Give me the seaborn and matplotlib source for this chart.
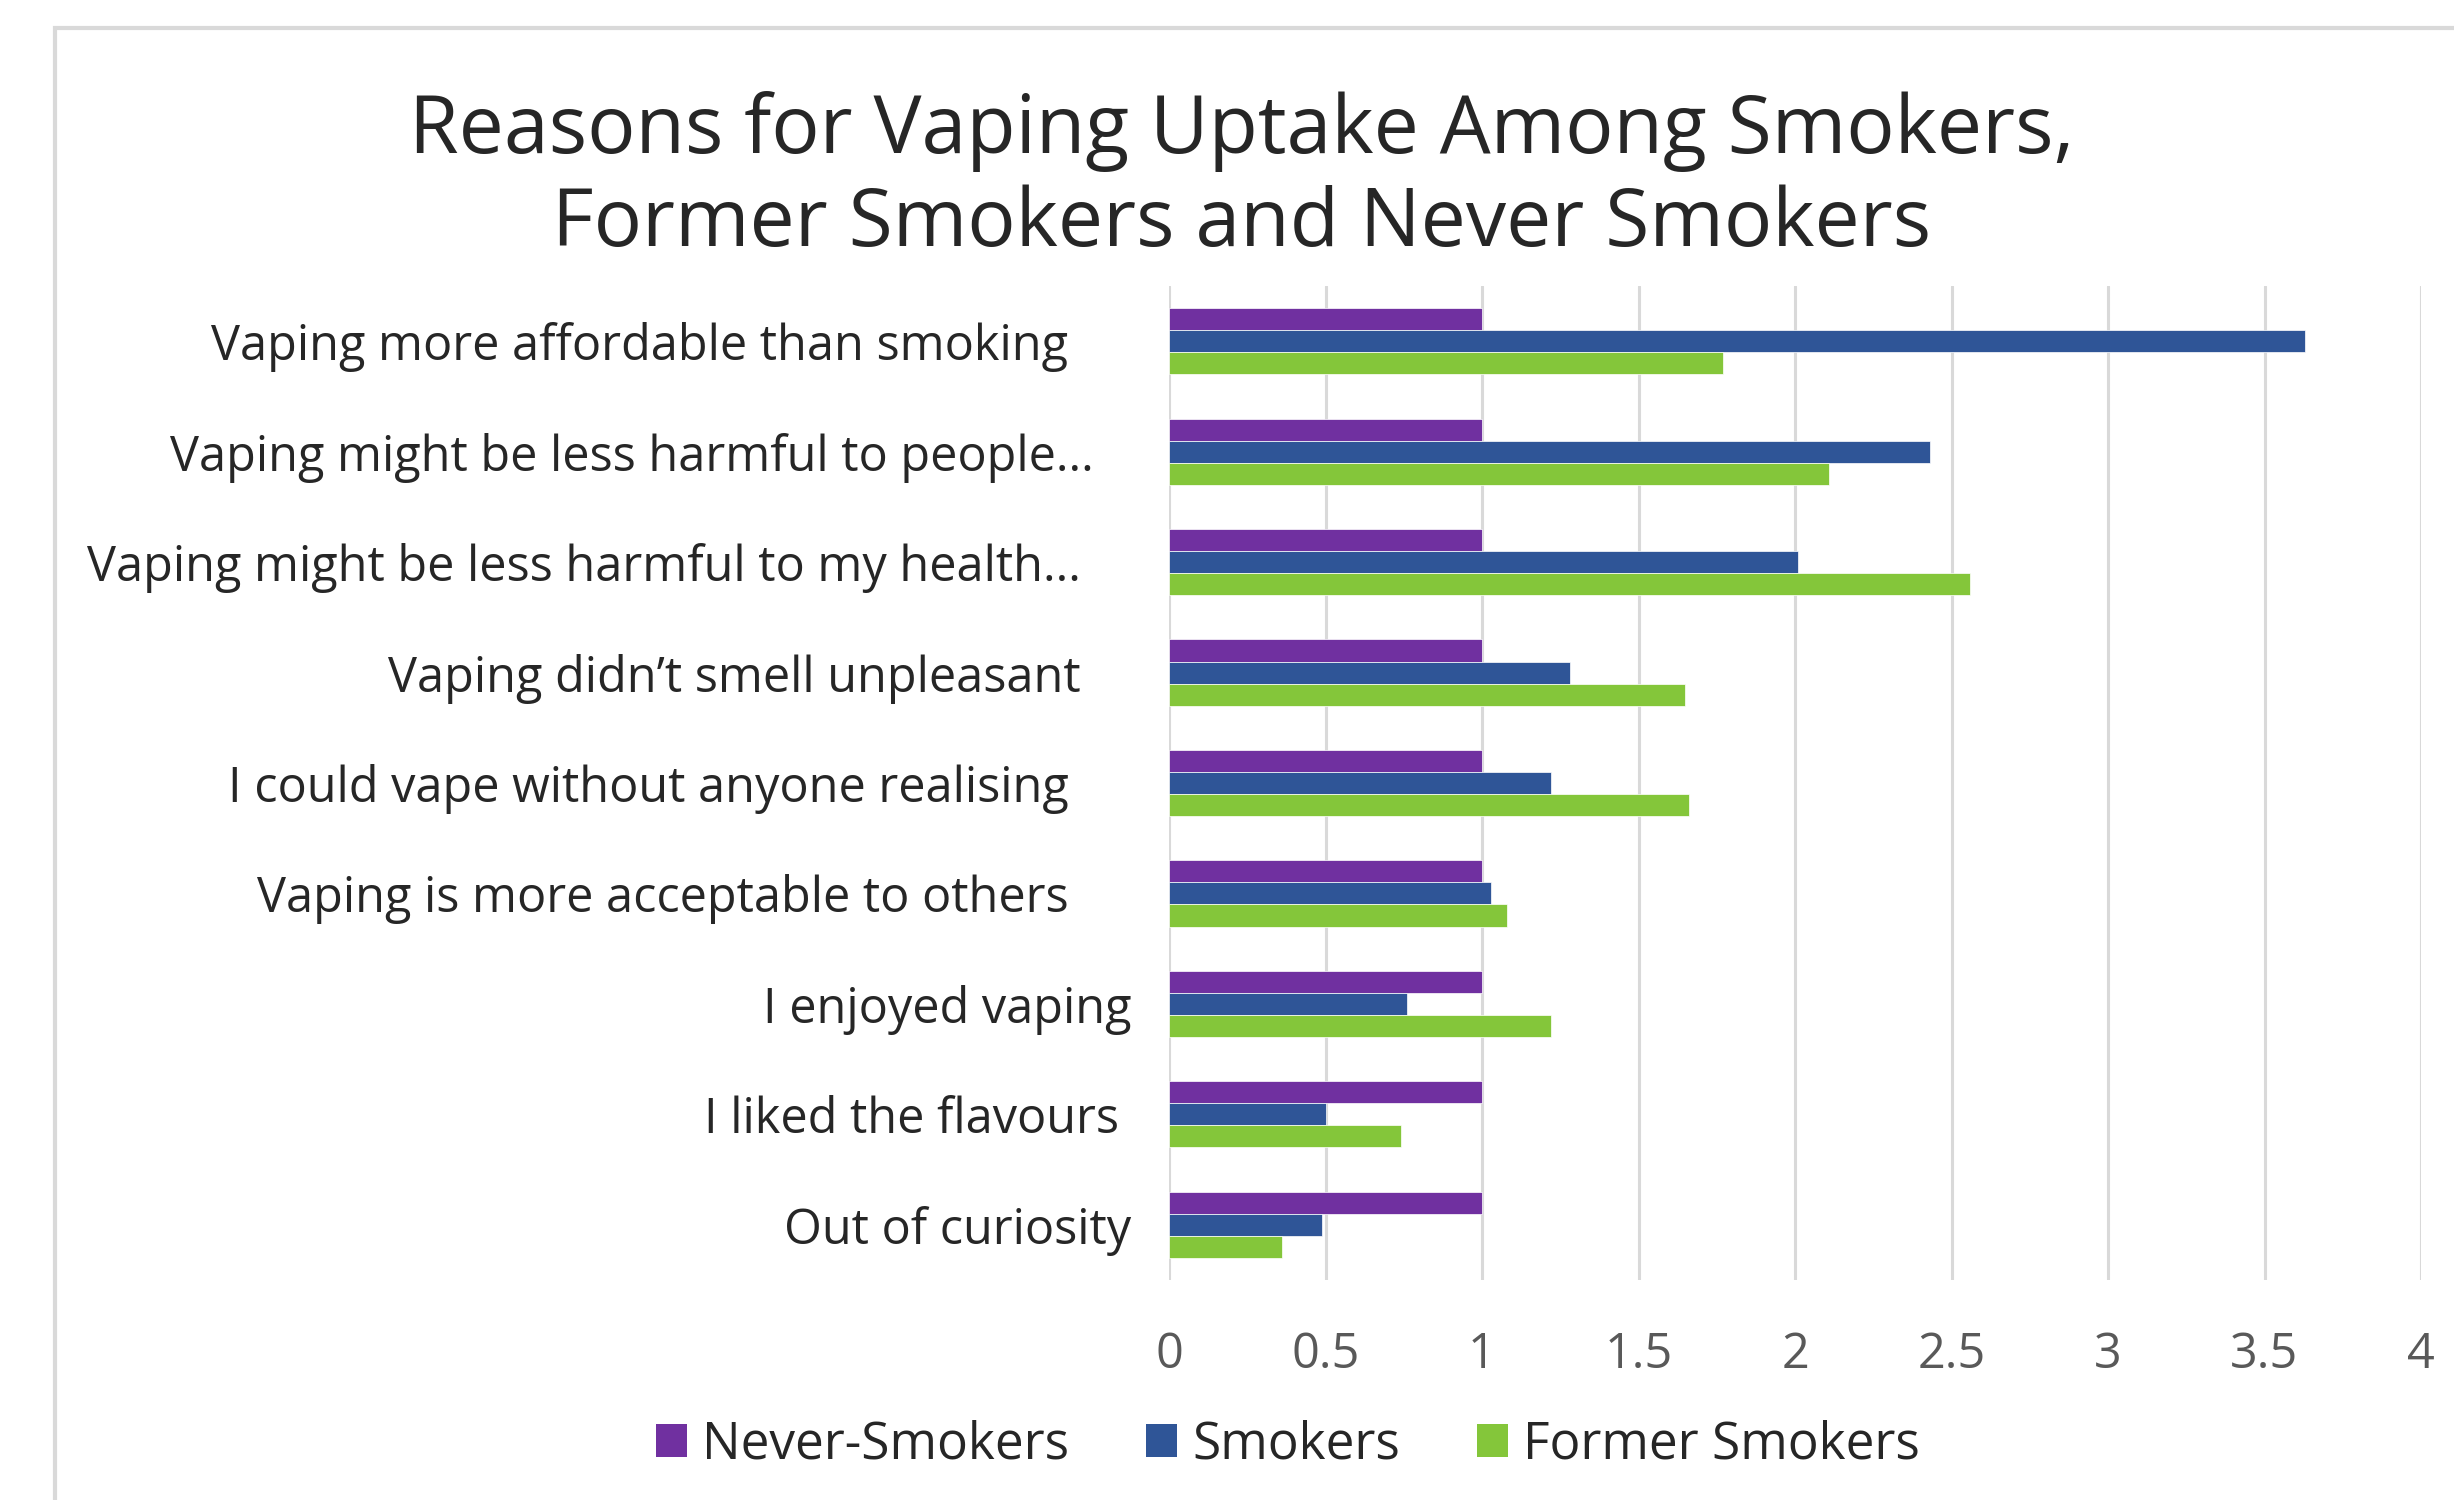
import matplotlib
matplotlib.use("Agg")
import matplotlib.pyplot as plt
import seaborn as sns
import pandas as pd
from matplotlib.patches import Rectangle, Patch

categories = [
    "Vaping more affordable than smoking",
    "Vaping might be less harmful to people...",
    "Vaping might be less harmful to my health...",
    "Vaping didn\u2019t smell unpleasant",
    "I could vape without anyone realising",
    "Vaping is more acceptable to others",
    "I enjoyed vaping",
    "I liked the flavours",
    "Out of curiosity",
]
never_smokers = [1.0, 1.0, 1.0, 1.0, 1.0, 1.0, 1.0, 1.0, 1.0]
smokers = [3.63, 2.43, 2.01, 1.28, 1.22, 1.03, 0.76, 0.50, 0.49]
former_smokers = [1.77, 2.11, 2.56, 1.65, 1.66, 1.08, 1.22, 0.74, 0.36]
series = ["Never-Smokers", "Smokers", "Former Smokers"]
x_ticks = [0, 0.5, 1, 1.5, 2, 2.5, 3, 3.5, 4]
x_tick_labels = ["0", "0.5", "1", "1.5", "2", "2.5", "3", "3.5", "4"]
title = "Reasons for Vaping Uptake Among Smokers,\nFormer Smokers and Never Smokers"

colors = ["#7030A0", "#2F5597", "#84C63A"]

df = pd.DataFrame({
    "Reason": categories * 3,
    "Group": [series[0]] * 9 + [series[1]] * 9 + [series[2]] * 9,
    "Value": never_smokers + smokers + former_smokers,
})

sns.set_theme(style="white")
plt.rcParams["font.family"] = ["Open Sans", "DejaVu Sans"]

fig = plt.figure(figsize=(24.54, 15), dpi=100)
fig.patch.set_facecolor("white")
ax = fig.add_axes([1169 / 2454, 1 - 1280 / 1500, (2421 - 1169) / 2454, (1280 - 286) / 1500])

sns.barplot(data=df, x="Value", y="Reason", hue="Group", order=categories,
            hue_order=series, palette=colors, saturation=1, orient="h",
            width=0.6, gap=0, errorbar=None, ax=ax, legend=False,
            edgecolor="white", linewidth=0.5, zorder=3)

ax.set_xlim(0, 4)
ax.set_ylim(8.5, -0.5)
ax.set_xticks(x_ticks)
ax.set_xticklabels(x_tick_labels, fontsize=35, color="#595959")
ax.grid(axis="x", color="#d9d9d9", linewidth=2.2, zorder=0)
ax.grid(axis="y", visible=False)
ax.set_axisbelow(True)
for s in ax.spines.values():
    s.set_visible(False)
ax.set_xlabel("")
ax.set_ylabel("")
ax.tick_params(axis="x", length=0, pad=36)
ax.tick_params(axis="y", length=0, pad=27)

pads = {0: 5, 1: 3, 2: 4, 3: 4, 4: 5, 5: 5, 6: 0, 7: 1, 8: 0}
ax.set_yticks(range(len(categories)))
ax.set_yticklabels([c + " " * pads[i] for i, c in enumerate(categories)],
                   fontsize=35, color="#262626")

fig.text(1242 / 2454, 1 - 246 / 1500, title, ha="center", va="baseline",
         fontsize=58, color="#262626", linespacing=1.21)

handles = [Patch(facecolor=c, edgecolor="none") for c in colors]
fig.legend(handles, series, loc="center", bbox_to_anchor=(1288 / 2454, 1 - 1445 / 1500),
           ncol=3, frameon=False, fontsize=37, handlelength=0.6, handleheight=0.6,
           handletextpad=0.3, columnspacing=1.5, labelcolor="#262626")

fig.patches.append(Rectangle((55 / 2454, -0.1), 1.2, 1.1 - 28 / 1500,
                             transform=fig.transFigure, fill=False,
                             edgecolor="#d9d9d9", linewidth=3, zorder=0))

fig.savefig("out.png", dpi=100, facecolor="white")
